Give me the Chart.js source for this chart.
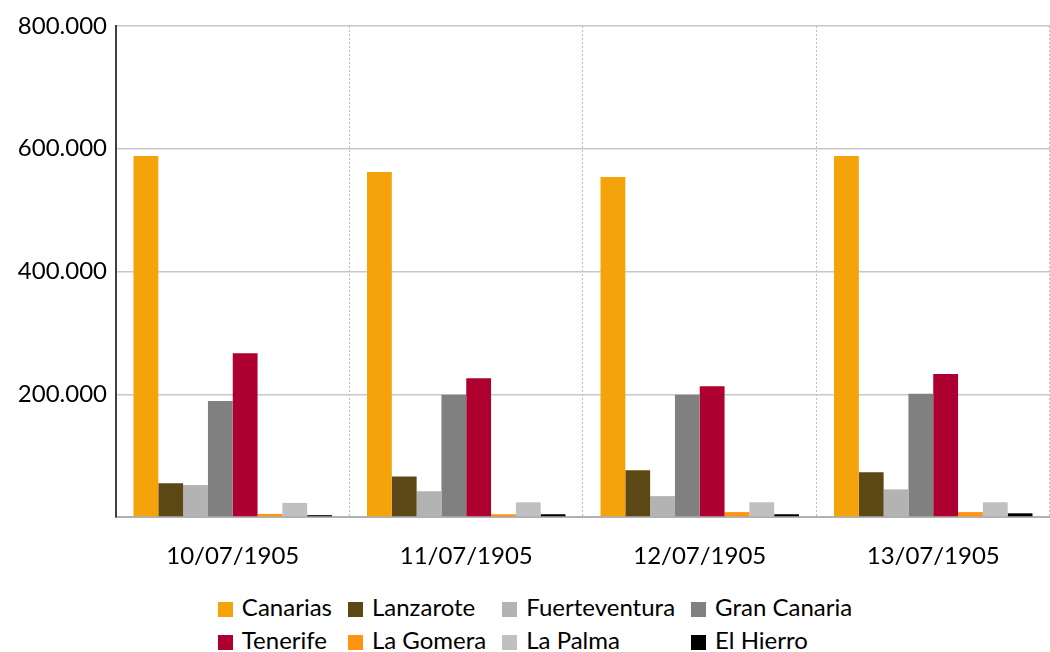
<!DOCTYPE html>
<html>
<head>
<meta charset="utf-8">
<script src="https://cdn.jsdelivr.net/npm/chart.js@4/dist/chart.umd.min.js"></script>
<style>
    body { margin: 0; background: #fff; font-family: Lato, sans-serif; }
    #wrap { position: relative; width: 1050px; height: 585px; }
    #legend {
        display: grid;
        grid-template-columns: repeat(4, auto);
        justify-content: center;
        column-gap: 16px;
        margin-top: 5px;
        padding-left: 20px;
        font-size: 24px;
        line-height: 33px;
        color: #000;
    }
    #legend span.box {
        display: inline-block;
        width: 15px;
        height: 15px;
        margin-right: 9px;
        vertical-align: -1px;
    }
</style>
</head>
<body>
<div id="wrap"><canvas id="chart"></canvas></div>
<div id="legend"></div>
<script>
const dates = ["10/07/1905", "11/07/1905", "12/07/1905", "13/07/1905"];
const islands = ["Canarias", "Lanzarote", "Fuerteventura", "Gran Canaria", "Tenerife", "La Gomera", "La Palma", "El Hierro"];
const colours = ["#f5a30a", "#5c4814", "#b3b3b3", "#808080", "#ad0030", "#ff9410", "#c0c0c0", "#000000"];

// values per island, one per date
const canarias = [588000, 562000, 554000, 588000];
const lanzarote = [55000, 66000, 76000, 73000];
const fuerteventura = [52000, 42000, 34000, 45000];
const granCanaria = [189000, 199000, 199000, 201000];
const tenerife = [267000, 226000, 213000, 233000];
const laGomera = [5000, 4500, 8000, 8000];
const laPalma = [23000, 24000, 24000, 24000];
const elHierro = [3000, 4500, 4500, 6000];

const series = [canarias, lanzarote, fuerteventura, granCanaria, tenerife, laGomera, laPalma, elHierro];

const font = { family: "Lato", size: 24 };

new Chart(document.getElementById("chart"), {
    type: "bar",
    data: {
        labels: dates,
        datasets: series.map((values, i) => ({
            label: islands[i],
            data: values,
            backgroundColor: colours[i],
            barPercentage: 1,
            categoryPercentage: 0.85,
        })),
    },
    options: {
        responsive: true,
        maintainAspectRatio: false,
        animation: false,
        layout: { padding: { top: 26, left: 0, right: 0, bottom: 0 } },
        scales: {
            x: {
                grid: { display: false },
                border: { display: true, color: "#b0b0b0", width: 2 },
                ticks: { color: "#000", font: font, padding: 17 },
                afterFit: (scale) => { scale.height = 68; },
            },
            y: {
                min: 0,
                max: 800000,
                ticks: {
                    stepSize: 200000,
                    color: "#000",
                    font: font,
                    padding: 9,
                    callback: (v) => v === 0 ? "" : v.toLocaleString("de-DE"),
                },
                grid: { color: "#c8c8c8", lineWidth: 1.5, drawTicks: false },
                border: { color: "#404040", width: 2 },
                afterFit: (scale) => { scale.width = 116; },
            },
        },
        plugins: {
            legend: { display: false },
            tooltip: { enabled: false },
        },
    },
    plugins: [{
        // dotted vertical lines between categories
        id: "dottedGrid",
        beforeDatasetsDraw(chart) {
            const { ctx, chartArea } = chart;
            const step = (chartArea.right - chartArea.left) / dates.length;
            ctx.save();
            ctx.strokeStyle = "#bdbdbd";
            ctx.lineWidth = 1;
            ctx.setLineDash([2, 2]);
            for (let i = 1; i <= dates.length; i++) {
                const x = Math.round(chartArea.left + step * i) - 0.5;
                ctx.beginPath();
                ctx.moveTo(x, chartArea.top);
                ctx.lineTo(x, chartArea.bottom);
                ctx.stroke();
            }
            ctx.restore();
        },
    }],
});

// legend in four aligned columns
const legend = document.getElementById("legend");
islands.forEach((name, i) => {
    const item = document.createElement("div");
    item.innerHTML = `<span class="box" style="background:${colours[i]}"></span>${name}`;
    legend.appendChild(item);
});
</script>
</body>
</html>
